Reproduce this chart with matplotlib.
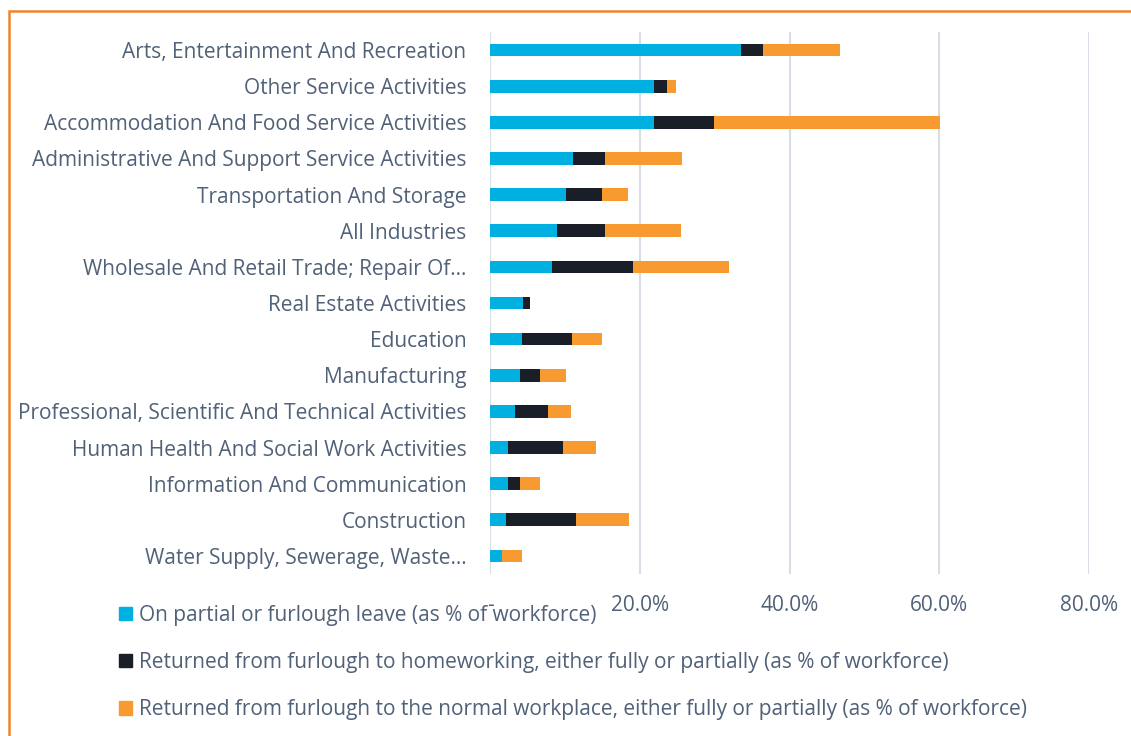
import matplotlib
matplotlib.use("Agg")
import matplotlib.pyplot as plt
from matplotlib.patches import Rectangle
import numpy as np

categories = [
    "Arts, Entertainment And Recreation",
    "Other Service Activities",
    "Accommodation And Food Service Activities",
    "Administrative And Support Service Activities",
    "Transportation And Storage",
    "All Industries",
    "Wholesale And Retail Trade; Repair Of…",
    "Real Estate Activities",
    "Education",
    "Manufacturing",
    "Professional, Scientific And Technical Activities",
    "Human Health And Social Work Activities",
    "Information And Communication",
    "Construction",
    "Water Supply, Sewerage, Waste…",
]
furlough = [33.5, 21.9, 21.9, 11.1, 10.2, 8.9, 8.3, 4.4, 4.3, 4.0, 3.3, 2.4, 2.4, 2.2, 1.6]
home = [2.9, 1.7, 8.0, 4.3, 4.7, 6.4, 10.8, 1.0, 6.7, 2.7, 4.4, 7.3, 1.6, 9.3, 0.0]
workplace = [10.4, 1.3, 30.2, 10.2, 3.5, 10.2, 12.8, 0.0, 4.0, 3.5, 3.1, 4.5, 2.7, 7.1, 2.7]
series_names = [
    "On partial or furlough leave (as % of workforce)",
    "Returned from furlough to homeworking, either fully or partially (as % of workforce)",
    "Returned from furlough to the normal workplace, either fully or partially (as % of workforce)",
]
x_ticks = [0, 20, 40, 60, 80]
x_tick_labels = ["-", "20.0%", "40.0%", "60.0%", "80.0%"]

colors = ["#00B0E0", "#1A1E26", "#F79A30"]
text_color = "#506178"
font = "Open Sans"
fs = 15

W, H = 1131, 736
fig = plt.figure(figsize=(W / 100, H / 100), dpi=100)
fig.patch.set_facecolor("white")

ax = fig.add_axes([490 / W, 1 - 574 / H, 599 / W, 542 / H])
y = np.arange(len(categories))
left = np.zeros(len(categories))
for vals, c, name in zip([furlough, home, workplace], colors, series_names):
    vals = np.array(vals)
    ax.barh(y, vals, left=left, height=0.35, color=c, label=name, zorder=3)
    left = left + vals

ax.set_ylim(len(categories) - 0.5, -0.5)
ax.set_xlim(0, 80)
ax.set_yticks(y)
ax.set_yticklabels(categories, fontsize=fs, family=font, color=text_color)
ax.set_xticks(x_ticks)
ax.set_xticklabels(x_tick_labels, fontsize=fs, family=font, color=text_color)
ax.tick_params(axis="y", length=0, pad=17)
ax.tick_params(axis="x", length=0, pad=15)
ax.grid(axis="x", color="#D9DDE5", linewidth=1.5, zorder=0)
for s in ax.spines.values():
    s.set_visible(False)

# orange frame (partially cropped)
fig.add_artist(Rectangle((8.5 / W, -0.1), 1.2, 1.1 - 10.5 / H, transform=fig.transFigure,
                         fill=False, edgecolor="#F0852D", linewidth=1.8))

handles = [plt.Rectangle((0, 0), 1, 1, color=c) for c in colors]
leg = fig.legend(handles, series_names, loc="upper left", bbox_to_anchor=(115 / W, 1 - 601 / H),
                 frameon=False,
                 prop={"family": font, "size": fs}, handlelength=0.6, handleheight=0.6,
                 handletextpad=0.35, labelspacing=1.25, borderpad=0.2, borderaxespad=0)
for t in leg.get_texts():
    t.set_color(text_color)

fig.savefig("out.png", dpi=100)
